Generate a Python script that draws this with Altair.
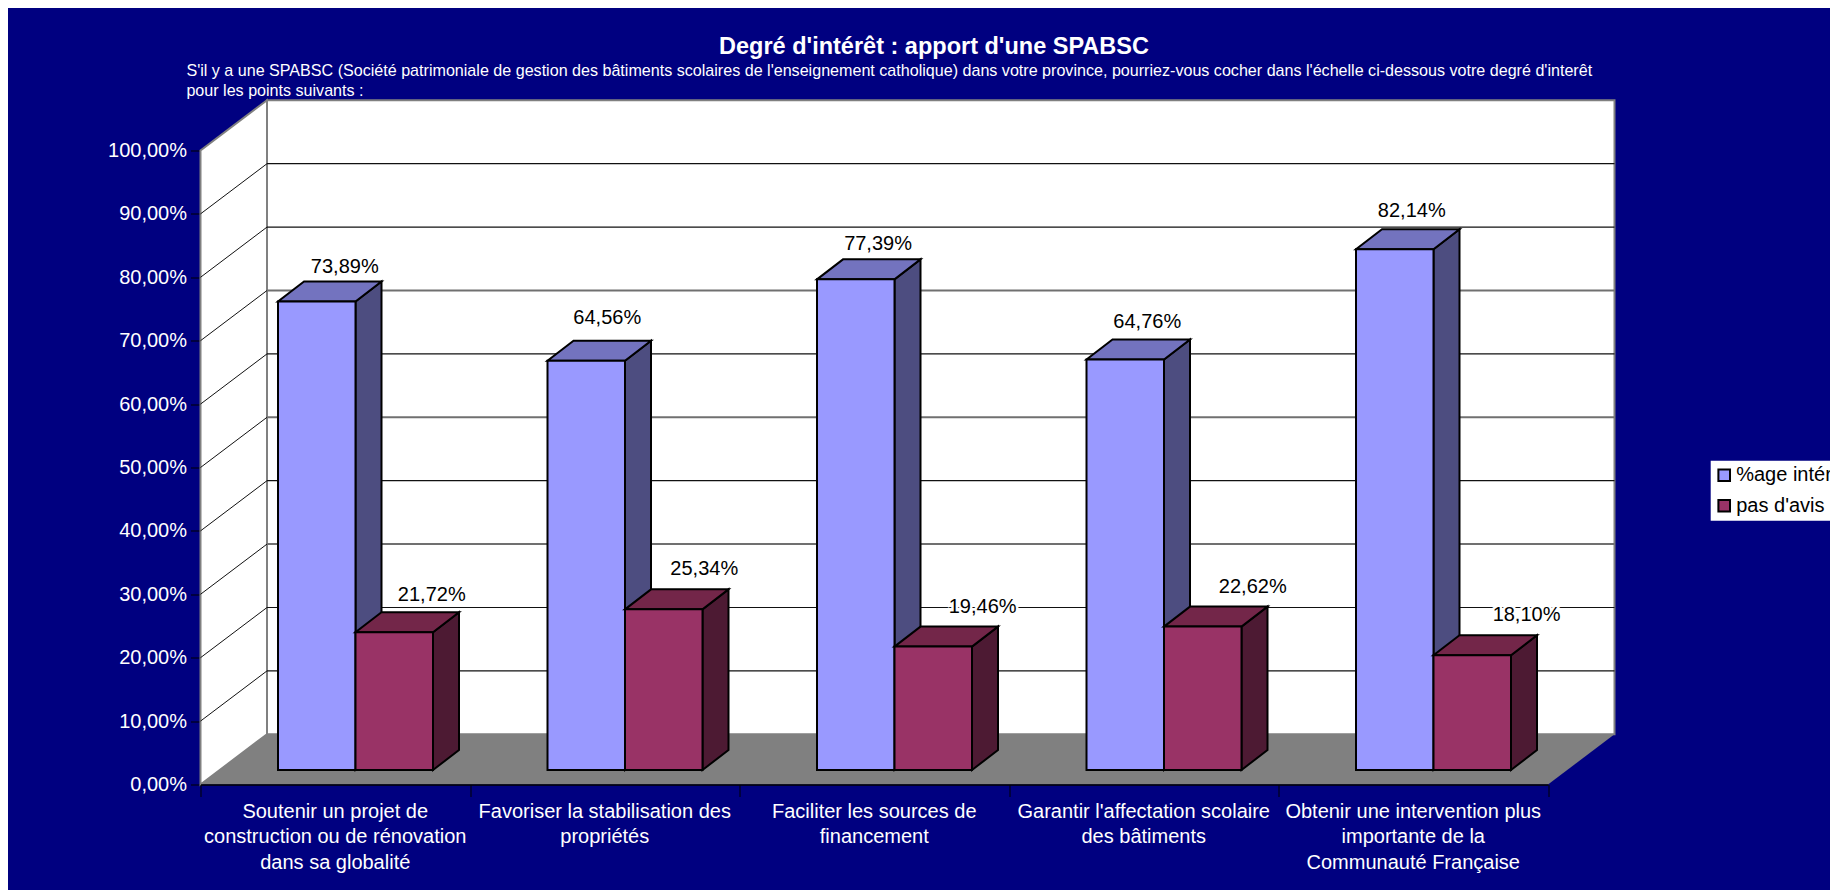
import altair as alt
import pandas as pd

categories = [
    "Soutenir un projet de\nconstruction ou de rénovation\ndans sa globalité",
    "Favoriser la stabilisation des\npropriétés",
    "Faciliter les sources de\nfinancement",
    "Garantir l'affectation scolaire\ndes bâtiments",
    "Obtenir une intervention plus\nimportante de la\nCommunauté Française",
]
interet = [73.89, 64.56, 77.39, 64.76, 82.14]
pas_avis = [21.72, 25.34, 19.46, 22.62, 18.10]
series_names = ["%age intérêt", "pas d'avis"]
tick_values = [0, 10, 20, 30, 40, 50, 60, 70, 80, 90, 100]
grid_dark = [10, 20, 40, 60, 80, 90]
grid_gray = [30, 50, 70]

TITLE = "Degré d'intérêt : apport d'une SPABSC"
SUBTITLE = ("S'il y a une SPABSC (Société patrimoniale de gestion des bâtiments scolaires de "
            "l'enseignement catholique) dans votre province, pourriez-vous cocher dans l'échelle "
            "ci-dessous votre degré d'interêt\npour les points suivants :")

# geometry of the pseudo 3D box, in pixels of the scales
W, H = 1347.5, 634.0
UX, UY = W / 5, H / 100
FONT = "Liberation Sans"
LABEL = 20
WALL_DX, WALL_DY = 66.5 / UX, 50.2 / UY
FLOOR_DX, FLOOR_DY = 19 / UX, 14.5 / UY
BAR_START, BAR_W = 58.5 / UX, 77.5 / UX
BAR_DX, BAR_DY = 26 / UX, 20 / UY
label_dx = [[28, 21, 22.3, 22, 17], [37.5, 40.5, 49.4, 50, 54.3]]
label_dy = [[34.3, 43, 35.6, 37, 38.5], [37, 40.8, 39.6, 39.4, 40]]

x_scale = alt.Scale(domain=[0, 5], nice=False, zero=False)
y_scale = alt.Scale(domain=[0, 100], nice=False, zero=False)

yaxis = alt.Axis(values=tick_values, domain=False, grid=False, tickColor="black", tickSize=10,
                 tickWidth=1, labelColor="white", labelFont=FONT, labelFontSize=LABEL,
                 labelPadding=4, labelOverlap=False, labelFlush=False,
                 labelExpr="replace(format(datum.value,'.2f'),'.',',')+'%'")
xaxis = alt.Axis(values=[0, 1, 2, 3, 4, 5], labels=False, grid=False, domainColor="black",
                 domainWidth=1.5, tickColor="black", tickSize=12, tickWidth=1, zindex=1)


def X(f="x"):
    return alt.X(f"{f}:Q", scale=x_scale, axis=xaxis, title=None, stack=None)


def Y(f="y"):
    return alt.Y(f"{f}:Q", scale=y_scale, axis=yaxis, title=None, stack=None)


front, side, top, labels = [], [], [], []
for s, (name, vals) in enumerate(zip(series_names, [interet, pas_avis])):
    for i, v in enumerate(vals):
        xl = i + FLOOR_DX + BAR_START + s * BAR_W
        xr = xl + BAR_W
        y0, y1 = FLOOR_DY, FLOOR_DY + v
        key = f"{s}-{i}"
        front.append(dict(serie=name, x=xl, x2=xr, y=y0, y2=y1))
        side += [dict(s=s, k=key, x=xr, y=y0, y2=y1),
                 dict(s=s, k=key, x=xr + BAR_DX, y=y0 + BAR_DY, y2=y1 + BAR_DY)]
        top += [dict(s=s, k=key, y=y1, x=xl, x2=xr),
                dict(s=s, k=key, y=y1 + BAR_DY, x=xl + BAR_DX, x2=xr + BAR_DX)]
        labels.append(dict(x=(xl + xr) / 2 + label_dx[s][i] / UX,
                           y=y1 + label_dy[s][i] / UY,
                           t=f"{v:.2f}%".replace(".", ",")))
front, side, top, labels = map(pd.DataFrame, (front, side, top, labels))

wall_side = pd.DataFrame([dict(x=0, y=0, y2=100), dict(x=WALL_DX, y=WALL_DY, y2=100 + WALL_DY)])
back = pd.DataFrame([dict(x=WALL_DX, x2=5 + WALL_DX, y=WALL_DY, y2=100 + WALL_DY)])
floor = pd.DataFrame([dict(y=0, x=0, x2=5), dict(y=WALL_DY, x=WALL_DX, x2=5 + WALL_DX)])


def grid_back(vals):
    return pd.DataFrame([dict(x=WALL_DX, x2=5 + WALL_DX, y=v + WALL_DY) for v in vals])


grid_side = pd.DataFrame(
    [dict(k=v, x=0, y=v) for v in tick_values[1:-1]]
    + [dict(k=v, x=WALL_DX, y=v + WALL_DY) for v in tick_values[1:-1]]
)

WALL = dict(fill="white", stroke="#808080", strokeWidth=2)
layers = [
    alt.Chart(back).mark_rect(**WALL).encode(x=X(), x2="x2:Q", y=Y(), y2="y2:Q"),
    alt.Chart(wall_side).mark_area(**WALL).encode(x=X(), y=Y(), y2="y2:Q"),
    alt.Chart(grid_back(grid_dark)).mark_rule(color="#111111", strokeWidth=1.2).encode(x=X(), x2="x2:Q", y=Y()),
    alt.Chart(grid_back(grid_gray)).mark_rule(color="#707070", strokeWidth=2).encode(x=X(), x2="x2:Q", y=Y()),
    alt.Chart(grid_side).mark_line(color="#111111", strokeWidth=1).encode(x=X(), y=Y(), detail="k:N"),
    alt.Chart(floor).mark_area(orient="horizontal", fill="#808080").encode(y=Y(), x=X(), x2="x2:Q"),
]
side_colors = ["#4D4D80", "#4D1A33"]
top_colors = ["#7373BF", "#732649"]
fronts = ["#9999FF", "#993366"]
color = alt.Color("serie:N", scale=alt.Scale(domain=series_names, range=fronts),
                  legend=alt.Legend(orient="none", legendX=1510.2, legendY=310.2, title=None,
                                    fillColor="white", padding=4.5, labelColor="black", labelFont=FONT,
                                    labelFontSize=LABEL, symbolType="square", symbolSize=135,
                                    symbolStrokeColor="black", symbolStrokeWidth=2, rowPadding=10.5,
                                    symbolOffset=-1, labelOffset=2, labelLimit=400))
for s in (0, 1):
    layers += [
        alt.Chart(side[side.s == s]).mark_area(fill=side_colors[s], stroke="black", strokeWidth=2).encode(
            x=X(), y=Y(), y2="y2:Q", detail="k:N"),
        alt.Chart(top[top.s == s]).mark_area(orient="horizontal", fill=top_colors[s], stroke="black", strokeWidth=2).encode(
            y=Y(), x=X(), x2="x2:Q", detail="k:N"),
        alt.Chart(front[front.serie == series_names[s]]).mark_rect(stroke="black", strokeWidth=2).encode(
            x=X(), x2="x2:Q", y=Y(), y2="y2:Q", color=color),
    ]
layers += [
    alt.Chart(labels).mark_text(font=FONT, fontSize=LABEL, stroke="white", strokeWidth=5, fill="white").encode(
        x=X(), y=Y(), text="t:N"),
    alt.Chart(labels).mark_text(font=FONT, fontSize=LABEL, color="black").encode(
        x=X(), y=Y(), text="t:N"),
    alt.Chart(pd.DataFrame(dict(x=[i + 0.5 for i in range(5)], y=[0] * 5, t=categories))).mark_text(
        font=FONT, fontSize=LABEL, color="white", lineBreak="\n", lineHeight=25.6, baseline="top", dy=17
    ).encode(x=X(), y=Y(), text="t:N"),
    alt.Chart(pd.DataFrame(dict(t=[SUBTITLE]))).mark_text(
        font=FONT, fontSize=16.1, color="white", lineBreak="\n", lineHeight=20.1, align="left", baseline="middle"
    ).encode(x=alt.value(-14.1), y=alt.value(-80), text="t:N"),
    alt.Chart(pd.DataFrame(dict(t=[TITLE]))).mark_text(
        font=FONT, fontSize=23.5, fontWeight="bold", color="white", align="center", baseline="middle"
    ).encode(x=alt.value(733.5), y=alt.value(-103.5), text="t:N"),
]

chart = alt.layer(*layers, data=alt.Data(values=[{}])).properties(
    width=W, height=H,
    background="#000080",
    padding={"left": 192.5, "top": 142.5, "right": 282, "bottom": 105.5},
    autosize=alt.AutoSizeParams(type="none"),
).configure_view(strokeWidth=0)

chart.save("out.html", embed_options={"renderer": "svg", "actions": False})
